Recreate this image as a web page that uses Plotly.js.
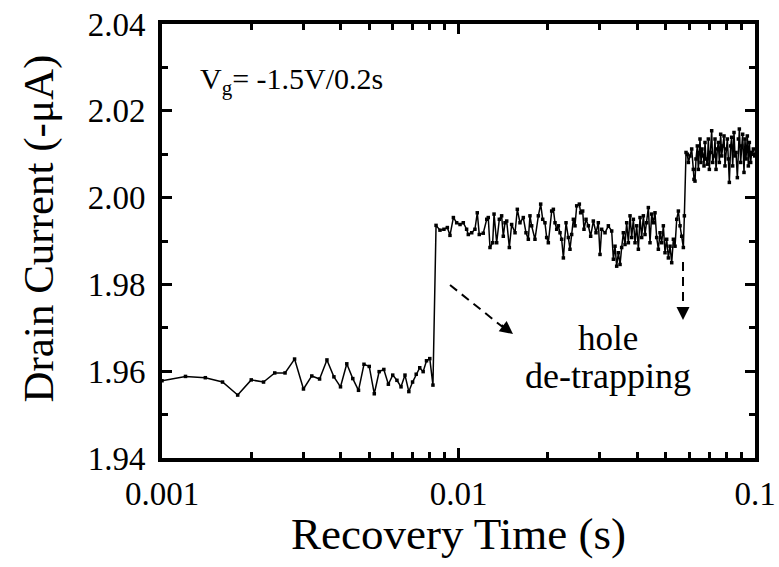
<!DOCTYPE html>
<html>
<head>
<meta charset="utf-8">
<script src="https://cdn.plot.ly/plotly-3.0.1.min.js"></script>
<style>html,body{margin:0;padding:0;background:#fff;}#chart{width:779px;height:567px;}</style>
</head>
<body>
<div id="chart"></div>
<script>
// Segment 1: before first de-trapping step (time in s, current in -uA)
var time1 = [0.0010,0.0012,0.0014,0.0016,0.0018,0.0020,0.0022,0.0024,0.0026,0.0028,0.0030,0.0032,0.0034,0.0036,0.0038,0.0040,0.0042,0.0044,0.0046,0.0048,0.0050,0.0052,0.0054,0.0056,0.0058,0.0060,0.0062,0.0064,0.0066,0.0068,0.0070,0.0072,0.0074,0.0076,0.0078,0.0080,0.0082];
var current1 = [1.9578,1.9588,1.9585,1.9575,1.9545,1.9580,1.9575,1.9596,1.9596,1.9628,1.9559,1.9589,1.9582,1.9626,1.9587,1.9564,1.9617,1.9583,1.9556,1.9616,1.9611,1.9548,1.9599,1.9604,1.9570,1.9591,1.9579,1.9564,1.9591,1.9553,1.9575,1.9593,1.9608,1.9599,1.9624,1.9629,1.9568];

// Segment 2: after first step
var time2 = [0.00840,0.00866,0.00893,0.00917,0.00936,0.00961,0.00986,0.01012,0.01038,0.01065,0.01079,0.01108,0.01136,0.01157,0.01175,0.01212,0.01245,0.01260,0.01277,0.01304,0.01318,0.01345,0.01373,0.01398,0.01416,0.01435,0.01454,0.01484,0.01511,0.01551,0.01579,0.01612,0.01654,0.01689,0.01720,0.01742,0.01765,0.01811,0.01859,0.01893,0.01923,0.01957,0.01983,0.02009,0.02062,0.02089,0.02116,0.02144,0.02172,0.02200,0.02228,0.02258,0.02305,0.02347,0.02377,0.02408,0.02440,0.02471,0.02504,0.02556,0.02582,0.02623,0.02650,0.02692,0.02741,0.02791,0.02849,0.02909,0.02962,0.03001,0.03040,0.03120,0.03202,0.03286,0.03329,0.03372,0.03416,0.03461,0.03506,0.03551,0.03597,0.03644,0.03692,0.03740,0.03789,0.03838,0.03888,0.03939,0.03990,0.04042,0.04095,0.04148,0.04202,0.04256,0.04312,0.04368,0.04425,0.04483,0.04541,0.04600,0.04660,0.04721,0.04783,0.04845,0.04908,0.04972,0.05037,0.05103,0.05169,0.05237,0.05305,0.05374,0.05445,0.05515,0.05587,0.05660,0.05733,0.05778];
var current2 = [1.9936,1.9925,1.9927,1.9931,1.9913,1.9954,1.9942,1.9938,1.9942,1.9927,1.9915,1.9919,1.9927,1.9965,1.9915,1.9918,1.9950,1.9954,1.9885,1.9896,1.9962,1.9896,1.9950,1.9958,1.9911,1.9942,1.9946,1.9885,1.9938,1.9919,1.9973,1.9942,1.9954,1.9919,1.9904,1.9958,1.9935,1.9904,1.9958,1.9985,1.9950,1.9942,1.9908,1.9896,1.9969,1.9973,1.9942,1.9927,1.9935,1.9919,1.9904,1.9861,1.9942,1.9908,1.9881,1.9915,1.9950,1.9935,1.9981,1.9985,1.9965,1.9969,1.9927,1.9950,1.9935,1.9911,1.9946,1.9919,1.9942,1.9869,1.9927,1.9919,1.9935,1.9923,1.9858,1.9888,1.9842,1.9873,1.9846,1.9885,1.9919,1.9892,1.9942,1.9896,1.9958,1.9908,1.9950,1.9896,1.9935,1.9881,1.9954,1.9908,1.9958,1.9915,1.9942,1.9977,1.9896,1.9962,1.9942,1.9965,1.9908,1.9881,1.9919,1.9896,1.9935,1.9873,1.9904,1.9861,1.9888,1.9850,1.9904,1.9888,1.9950,1.9969,1.9935,1.9911,1.9885,1.9958];

// Segment 3: after second step
var time3 = [0.05853,0.05913,0.05960,0.06038,0.06116,0.06194,0.06227,0.06275,0.06324,0.06390,0.06440,0.06490,0.06524,0.06575,0.06626,0.06695,0.06730,0.06783,0.06835,0.06907,0.06961,0.07015,0.07089,0.07144,0.07199,0.07273,0.07330,0.07388,0.07465,0.07522,0.07581,0.07660,0.07720,0.07780,0.07861,0.07922,0.07984,0.08067,0.08130,0.08193,0.08278,0.08343,0.08408,0.08496,0.08562,0.08629,0.08719,0.08787,0.08855,0.08947,0.09016,0.09087,0.09181,0.09253,0.09325,0.09422,0.09495,0.09570,0.09669,0.09745,0.09872,0.09975];
var current3 = [2.0104,2.0100,2.0081,2.0096,2.0112,2.0065,2.0042,2.0038,2.0089,2.0119,2.0065,2.0104,2.0135,2.0081,2.0112,2.0096,2.0073,2.0127,2.0089,2.0077,2.0135,2.0065,2.0104,2.0154,2.0081,2.0096,2.0135,2.0065,2.0112,2.0127,2.0081,2.0146,2.0096,2.0119,2.0142,2.0073,2.0112,2.0135,2.0089,2.0035,2.0119,2.0139,2.0073,2.0150,2.0096,2.0104,2.0046,2.0135,2.0158,2.0081,2.0119,2.0146,2.0058,2.0135,2.0089,2.0142,2.0073,2.0127,2.0081,2.0104,2.0112,2.0096];

var xTickVals = [0.001, 0.01, 0.1];
var xTickText = ['0.001', '0.01', '0.1'];
var xMinorVals = [0.002,0.003,0.004,0.005,0.006,0.007,0.008,0.009,0.02,0.03,0.04,0.05,0.06,0.07,0.08,0.09];

var xs = time1.concat(time2, time3);
var ys = current1.concat(current2, current3);

var FONT = 'Liberation Serif, Times New Roman, serif';

var trace = {
  x: xs, y: ys, type: 'scatter', mode: 'lines+markers',
  line: {color: '#000', width: 1.5},
  marker: {color: '#000', size: 3.5, symbol: 'square'},
  cliponaxis: true, hoverinfo: 'skip'
};

var layout = {
  width: 779, height: 567,
  margin: {l: 162, r: 24, t: 24, b: 109},
  paper_bgcolor: '#fff', plot_bgcolor: '#fff',
  showlegend: false,
  font: {family: FONT, color: '#000'},
  xaxis: {
    type: 'log', range: [-3, -1],
    tickmode: 'array', tickvals: xTickVals, ticktext: xTickText,
    ticks: 'inside', ticklen: 10, tickwidth: 3, tickcolor: '#000',
    minor: {tickmode: 'array', tickvals: xMinorVals, ticks: 'inside', ticklen: 6, tickwidth: 3, tickcolor: '#000'},
    showline: true, linewidth: 4, linecolor: '#000', mirror: 'ticks',
    showgrid: false, zeroline: false,
    tickfont: {family: FONT, size: 33, color: '#000'},
    ticklabelstandoff: 3
  },
  yaxis: {
    range: [1.94, 2.04], tickmode: 'linear', tick0: 1.94, dtick: 0.02, tickformat: '.2f',
    ticks: 'inside', ticklen: 10, tickwidth: 3, tickcolor: '#000',
    minor: {tickmode: 'linear', dtick: 0.01, ticks: 'inside', ticklen: 6, tickwidth: 3, tickcolor: '#000'},
    showline: true, linewidth: 4, linecolor: '#000', mirror: 'ticks',
    showgrid: false, zeroline: false,
    tickfont: {family: FONT, size: 33, color: '#000'},
    ticklabelstandoff: 6
  },
  shapes: [
    {type: 'line', xref: 'paper', yref: 'paper', x0: 0.4857, y0: 0.3986, x1: 0.578, y1: 0.298,
     line: {color: '#000', width: 2, dash: '9px,6px'}},
    {type: 'line', xref: 'paper', yref: 'paper', x0: 0.8786, y0: 0.4516, x1: 0.8786, y1: 0.335,
     line: {color: '#000', width: 2, dash: '9px,6px'}}
  ],
  annotations: [
    {xref: 'paper', yref: 'paper', x: 0.5, y: -0.176, xanchor: 'center', yanchor: 'middle',
     text: 'Recovery Time (s)', showarrow: false, font: {family: FONT, size: 45, color: '#000'}},
    {xref: 'paper', yref: 'paper', x: -0.208, y: 0.528, xanchor: 'center', yanchor: 'middle', textangle: -90,
     text: 'Drain Current (-μA)', showarrow: false, font: {family: FONT, size: 43, color: '#000'}},
    {xref: 'paper', yref: 'paper', x: 0.0607, y: 0.868, xanchor: 'left', yanchor: 'middle',
     text: 'V<sub>g</sub>= -1.5V/0.2s', showarrow: false, font: {family: FONT, size: 30, color: '#000'}},
    {xref: 'paper', yref: 'paper', x: 0.752, y: 0.275, xanchor: 'center', yanchor: 'middle',
     text: 'hole', showarrow: false, font: {family: FONT, size: 35, color: '#000'}},
    {xref: 'paper', yref: 'paper', x: 0.752, y: 0.190, xanchor: 'center', yanchor: 'middle',
     text: 'de-trapping', showarrow: false, font: {family: FONT, size: 36, color: '#000'}},
    {xref: 'paper', yref: 'paper', x: 0.5919, y: 0.2857, axref: 'pixel', ayref: 'pixel', ax: -13, ay: -10,
     text: '', showarrow: true, arrowhead: 2, arrowsize: 1.3, arrowwidth: 2, arrowcolor: '#000', standoff: 0},
    {xref: 'paper', yref: 'paper', x: 0.8786, y: 0.318, axref: 'pixel', ayref: 'pixel', ax: 0, ay: -14,
     text: '', showarrow: true, arrowhead: 2, arrowsize: 1.3, arrowwidth: 2, arrowcolor: '#000', standoff: 0}
  ]
};

Plotly.newPlot('chart', [trace], layout, {displayModeBar: false, staticPlot: true});
</script>
</body>
</html>
